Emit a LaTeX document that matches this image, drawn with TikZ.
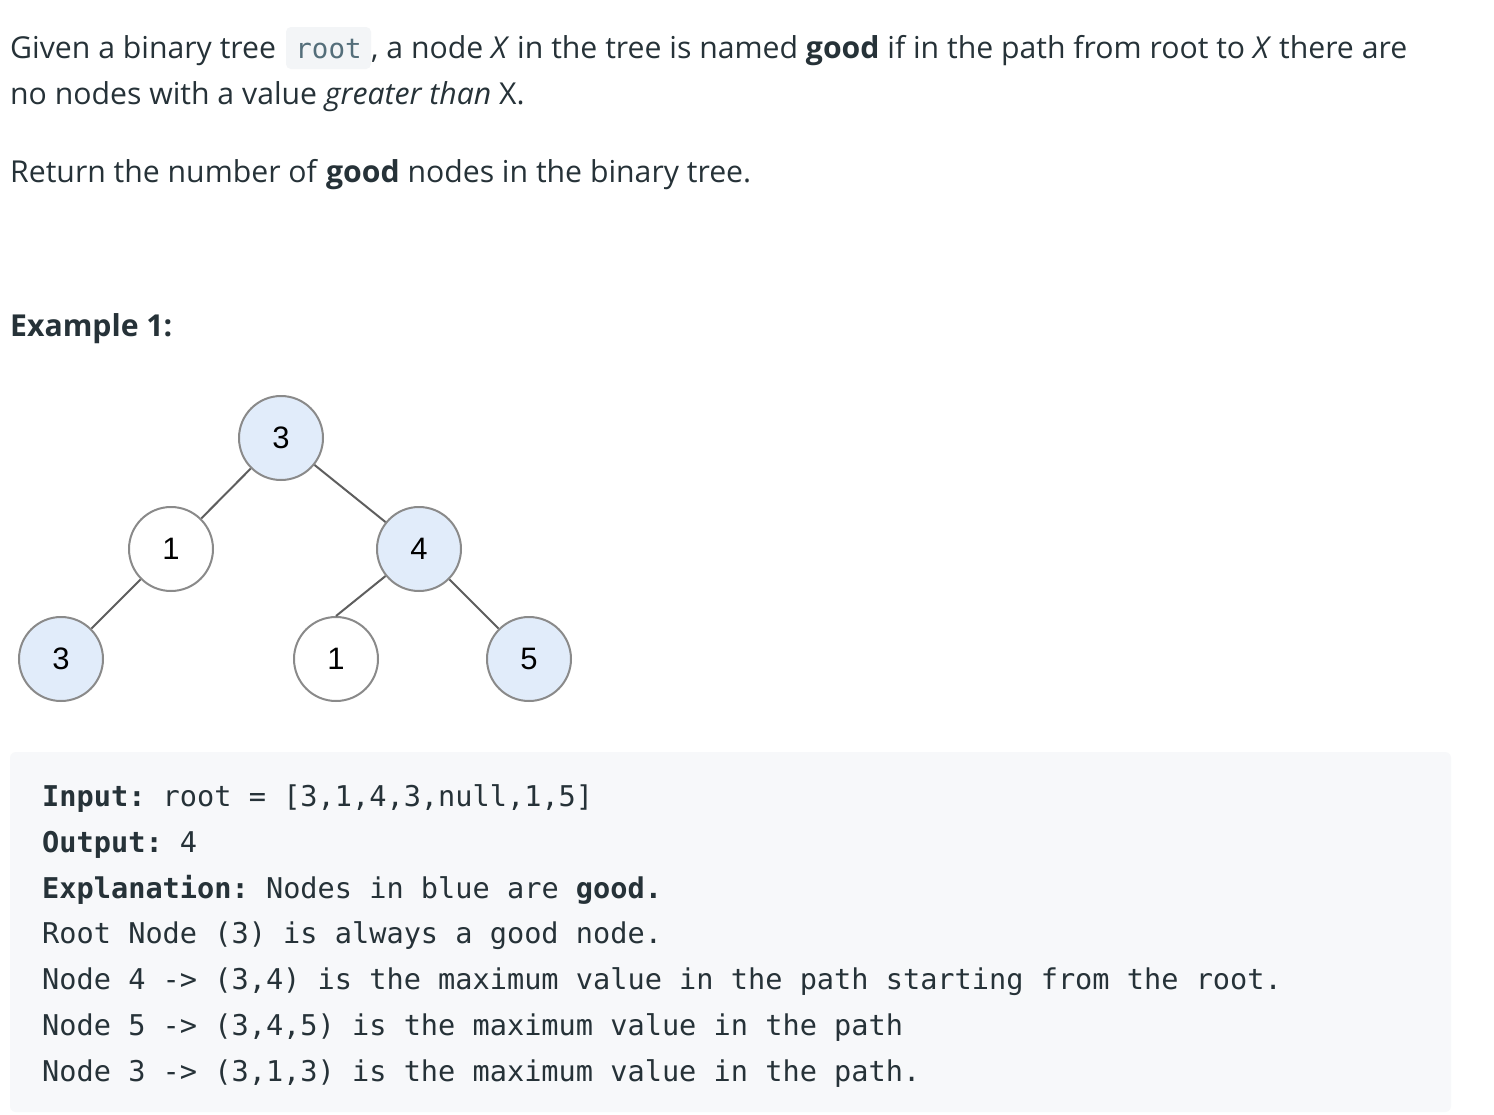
\documentclass[tikz,border=0pt]{standalone}
\usepackage{fontspec}
\setmainfont{Open Sans}
\setmonofont{DejaVu Sans Mono}
\newfontfamily\digitfont{Liberation Sans}
\definecolor{txt}{HTML}{263238}
\definecolor{codebg}{HTML}{F7F8FA}
\definecolor{inlinebg}{HTML}{F3F5F7}
\definecolor{inlinetxt}{HTML}{546E7A}
\definecolor{goodfill}{HTML}{E1ECFA}
\definecolor{ringcol}{HTML}{8A8A8A}
\definecolor{edgecol}{HTML}{5E5E5E}
\tikzset{
  body/.style={anchor=base west, inner sep=0pt, text=txt, font=\fontsize{30.2}{36}\selectfont},
  codeline/.style={anchor=base west, inner sep=0pt, text=txt, font=\ttfamily\fontsize{28.6}{34}\selectfont},
  treenode/.style={circle, draw=ringcol, line width=2pt, minimum size=84pt, inner sep=0pt, text=black, font=\digitfont\fontsize{31}{31}\selectfont},
  goodnode/.style={treenode, fill=goodfill},
  plainnode/.style={treenode, fill=white},
  edge/.style={draw=edgecol, line width=2pt}
}
\begin{document}
\begin{tikzpicture}[x=1pt,y=-1pt]
\useasboundingbox (0,0) rectangle (1494,1114);
\fill[white] (0,0) rectangle (1494,1114);
% paragraph
\node[body] (l1a) at (10,58.5) {Given a binary tree};
\fill[inlinebg, rounded corners=5pt] (286,27) rectangle (371,69);
\node[anchor=base, inner sep=0pt, text=inlinetxt, font=\ttfamily\fontsize{27.5}{30}\selectfont] (rootcode) at (328.5,58.5) {root};
\node[body] (l1b) at (371,58.5) {, a node \emph{X} in the tree is named \textbf{good} if in the path from root to \emph{X} there are};
\node[body] (l2) at (10,104.5) {no nodes with a value \emph{greater than} X.};
\node[body] (l3) at (10,182) {Return the number of \textbf{good} nodes in the binary tree.};
\node[body] (ex) at (10,336.5) {\textbf{Example 1:}};
% tree
\node[goodnode] (r) at (281,438) {3};
\node[plainnode] (a) at (171,549) {1};
\node[goodnode] (b) at (419,549) {4};
\node[goodnode] (c) at (61,659) {3};
\node[plainnode] (d) at (336,659) {1};
\node[goodnode] (e) at (529,659) {5};
\draw[edge] (r) -- (a);
\draw[edge] (r) -- (b);
\draw[edge] (a) -- (c);
\draw[edge] (b) -- (d.north);
\draw[edge] (b) -- (e);
% code block
\fill[codebg, rounded corners=6pt] (10,752) rectangle (1451,1112);
\node[codeline] (c1) at (42,806) {\textbf{Input:} root = [3,1,4,3,null,1,5]};
\node[codeline] (c2) at (42,852) {\textbf{Output:} 4};
\node[codeline] (c3) at (42,898) {\textbf{Explanation:} Nodes in blue are \textbf{good.}};
\node[codeline] (c4) at (42,943.5) {Root Node (3) is always a good node.};
\node[codeline] (c5) at (42,989) {Node 4 -> (3,4) is the maximum value in the path starting from the root.};
\node[codeline] (c6) at (42,1035) {Node 5 -> (3,4,5) is the maximum value in the path};
\node[codeline] (c7) at (42,1081) {Node 3 -> (3,1,3) is the maximum value in the path.};
\end{tikzpicture}
\end{document}
